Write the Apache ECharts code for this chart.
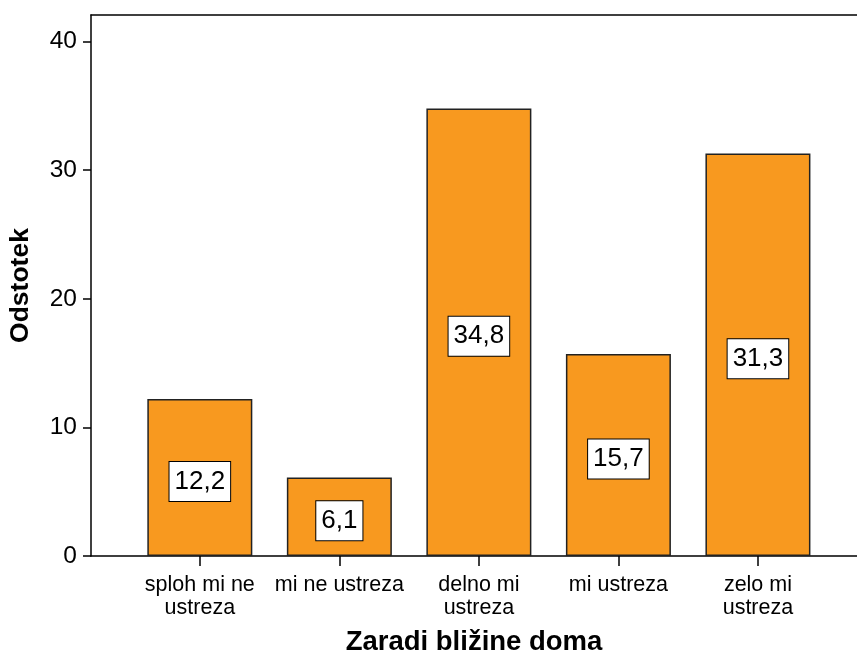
<!DOCTYPE html>
<html>
<head>
<meta charset="utf-8">
<script src="https://cdn.jsdelivr.net/npm/echarts@6/dist/echarts.min.js"></script>
<style>
  html, body { margin: 0; padding: 0; background: #fff; }
  #main { width: 857px; height: 658px; }
</style>
</head>
<body>
<div id="main"></div>
<script>
// kategorije in odstotki
var categories = ['sploh mi ne\nustreza', 'mi ne ustreza', 'delno mi\nustreza', 'mi ustreza', 'zelo mi\nustreza'];
var positions = [1, 2, 3, 4, 5];
var values = [12.2, 6.1, 34.8, 15.7, 31.3];
var yTicks = [0, 10, 20, 30, 40];

var font = 'Liberation Sans, Arial, sans-serif';
var chart = echarts.init(document.getElementById('main'));

var barData = positions.map(function (p, i) {
  return [p, values[i]];
});

var option = {
  animation: false,
  backgroundColor: '#fff',
  grid: {
    left: 91,
    right: 0,
    top: 15,
    bottom: 102,
    outerBoundsMode: 'none'
  },
  xAxis: [{
    type: 'value',
    min: 0.22,
    max: 5.71,
    name: 'Zaradi bližine doma',
    nameLocation: 'middle',
    nameGap: 72,
    nameTextStyle: { fontFamily: font, fontSize: 27.5, fontWeight: 'bold', color: '#000' },
    axisLine: { show: true, lineStyle: { color: '#000', width: 1.5 } },
    axisTick: { show: true, length: 10, customValues: positions, lineStyle: { color: '#000', width: 1.5 } },
    axisLabel: {
      customValues: positions,
      formatter: function (v) { return categories[Math.round(v) - 1] || ''; },
      fontFamily: font,
      fontSize: 21.5,
      lineHeight: 23,
      color: '#000',
      margin: 18
    },
    splitLine: { show: false }
  }, {
    type: 'value',
    position: 'top',
    min: 0.22,
    max: 5.71,
    axisLine: { show: true, lineStyle: { color: '#000', width: 1.5 } },
    axisTick: { show: false },
    axisLabel: { show: false },
    splitLine: { show: false }
  }],
  yAxis: {
    type: 'value',
    min: 0,
    max: 42.07,
    name: 'Odstotek',
    nameLocation: 'middle',
    nameGap: 57,
    nameRotate: 90,
    nameTextStyle: { fontFamily: font, fontSize: 26.5, fontWeight: 'bold', color: '#000' },
    axisLine: { show: true, lineStyle: { color: '#000', width: 1.5 } },
    axisTick: { show: true, length: 8, customValues: yTicks, lineStyle: { color: '#000', width: 1.5 } },
    axisLabel: {
      customValues: yTicks,
      fontFamily: font,
      fontSize: 24.5,
      color: '#000',
      margin: 14
    },
    splitLine: { show: false }
  },
  series: [{
    type: 'bar',
    data: barData,
    barWidth: 105,
    itemStyle: { color: '#f8991f', borderColor: '#222', borderWidth: 1.5 },
    label: {
      show: true,
      position: 'inside',
      offset: [0, 4],
      formatter: function (p) { return String(p.value[1]).replace('.', ','); },
      fontFamily: font,
      fontSize: 26,
      color: '#000',
      backgroundColor: '#fff',
      borderColor: '#000',
      borderWidth: 1,
      padding: [7, 5, 6, 5]
    }
  }]
};

chart.setOption(option);
</script>
</body>
</html>
